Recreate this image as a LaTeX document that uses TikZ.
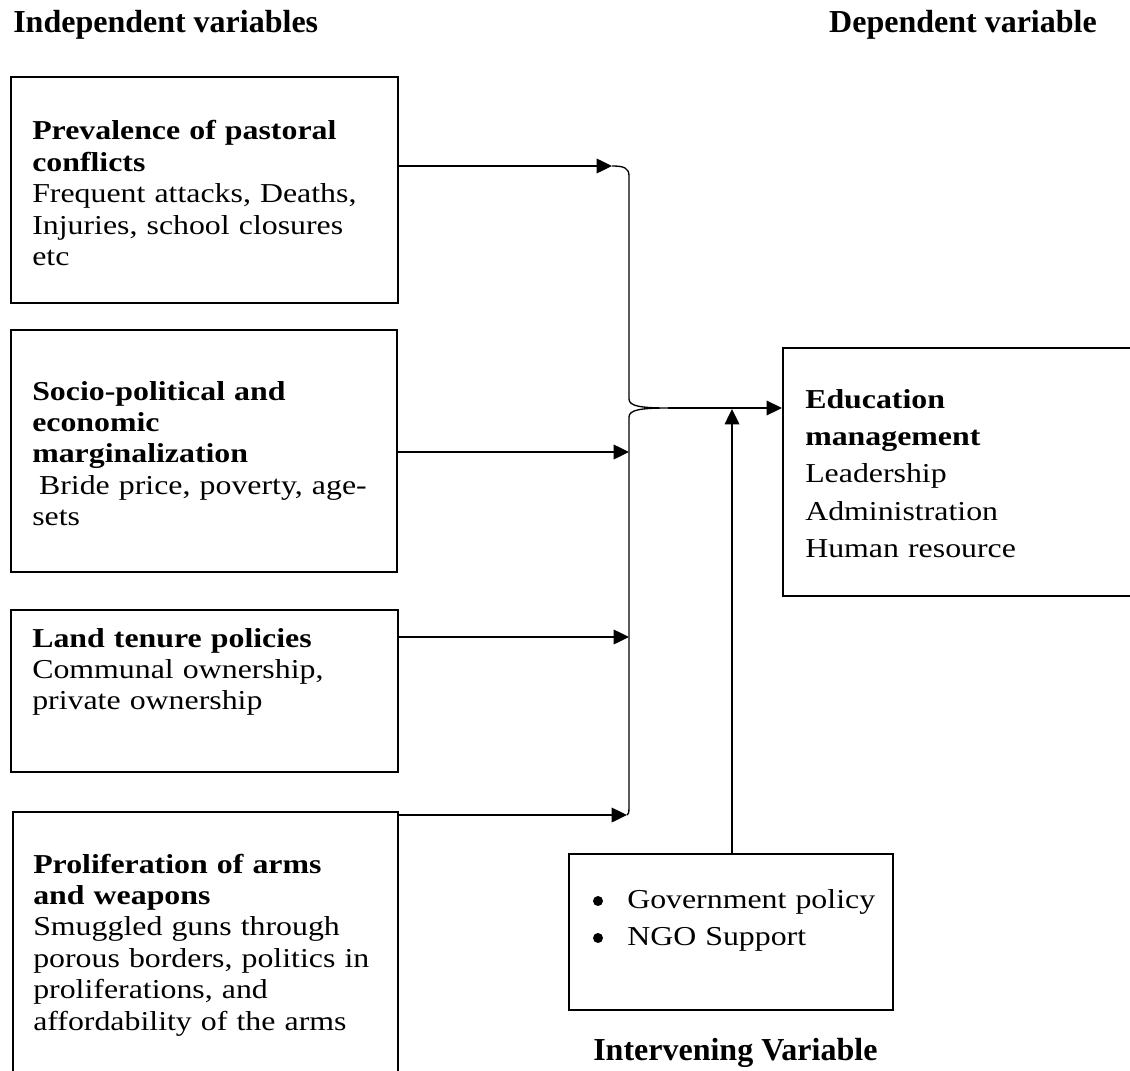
\documentclass[tikz,border=0pt]{standalone}
\usepackage{fontspec}
\setmainfont{Liberation Serif}
\newfontfamily\bodyf{Liberation Serif}[FakeStretch=1.165]
\usetikzlibrary{arrows.meta,fit}
\begin{document}
\begin{tikzpicture}[x=0.75pt,y=-0.75pt,
  box/.style={draw,line width=1.6pt,inner sep=0pt},
  txt/.style={inner sep=0pt,anchor=base west,align=left,text width=330pt,
    font=\bodyf\fontsize{20.5}{23.6}\selectfont},
  ttl/.style={inner sep=0pt,font=\bfseries\fontsize{24}{28}\selectfont},
  dot/.style={circle,fill,inner sep=0pt,minimum size=7.5pt},
  conn/.style={line width=1pt},
  arr/.style={conn,-{Triangle[length=11.5pt,width=11pt]}}]
\useasboundingbox[fill=white] (0,0) rectangle (1130,1070);

% titles
\node[ttl,anchor=base west] (tind) at (13,33) {Independent variables};
\node[ttl,anchor=base east] (tdep) at (1097,33) {Dependent variable};
\node[ttl,anchor=base west] (tint) at (593,1060) {Intervening Variable};

% boxes
\node[box,fit={(11,77) (398,303)}] (b1) {};
\node[box,fit={(11,330) (397,572)}] (b2) {};
\node[box,fit={(11,610) (398,772)}] (b3) {};
\node[box,fit={(13,812) (398,1080)}] (b4) {};
\node[box,fit={(783,348) (1145,596)}] (dep) {};
\node[box,fit={(569,854) (893,1010)}] (int) {};

% texts
\node[txt] (t1) at (32,140) {\textbf{Prevalence of pastoral}\\\textbf{conflicts}\\Frequent attacks, Deaths,\\Injuries, school closures\\etc};
\node[txt] (t2) at (32,400) {\textbf{Socio-political and}\\\textbf{economic}\\\textbf{marginalization}\\\hspace*{0.25em}Bride price, poverty, age-\\sets};
\node[txt] (t3) at (32,647) {\textbf{Land tenure policies}\\Communal ownership,\\private ownership};
\node[txt] (t4) at (33,873) {\textbf{Proliferation of arms}\\\textbf{and weapons}\\Smuggled guns through\\porous borders, politics in\\proliferations, and\\affordability of the arms};
\node[txt,font=\bodyf\fontsize{20.5}{28.1}\selectfont] (t5) at (805,408) {\textbf{Education}\\\textbf{management}\\Leadership\\Administration\\Human resource};
\node[dot] (bu1) at (598,901) {};
\node[dot] (bu2) at (598,938) {};
\node[txt] (t6) at (627,908) {Government policy};
\node[txt] (t7) at (627,945) {NGO Support};

% junction coordinates
\coordinate (j1) at (612,166);
\coordinate (j2) at (629,452);
\coordinate (j3) at (629,637);
\coordinate (j4) at (627,815);
\coordinate (cusp) at (668,408);
\coordinate (v) at (732,409);

% brace
\draw[conn] (j1) .. controls (624,166) and (629,168) .. (629,176) -- (629,399)
  .. controls (629,406) and (640,408) .. (cusp)
  .. controls (640,408) and (629,410) .. (629,417) -- (629,808)
  .. controls (629,813) and (628,815) .. (j4);

% arrows
\draw[arr] (b1.east |- j1) -- (j1);
\draw[arr] (b2.east |- j2) -- (j2);
\draw[arr] (b3.east |- j3) -- (j3);
\draw[arr] (b4.east |- j4) -- (j4);
\draw[arr] (cusp) -- (dep.west |- cusp);
\draw[arr] (v |- int.north) -- (v);
\end{tikzpicture}
\end{document}
